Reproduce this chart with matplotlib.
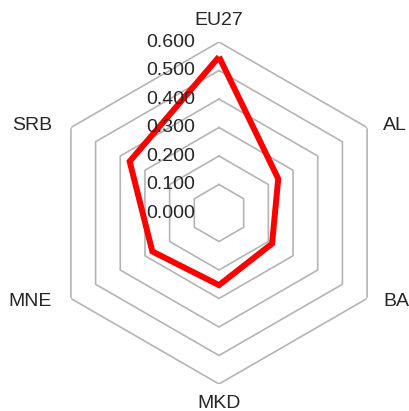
import numpy as np
import matplotlib
matplotlib.use("Agg")
import matplotlib.pyplot as plt
from matplotlib.transforms import offset_copy

# Radar data
categories = ["EU27", "AL", "BA", "MKD", "MNE", "SRB"]
values = [0.548, 0.240, 0.215, 0.253, 0.270, 0.362]
ring_levels = [0.1, 0.2, 0.3, 0.4, 0.5, 0.6]
tick_labels = ["0.000", "0.100", "0.200", "0.300", "0.400", "0.500", "0.600"]
tick_values = [0.0, 0.1, 0.2, 0.3, 0.4, 0.5, 0.6]

plt.rcParams["font.family"] = ["Liberation Sans", "DejaVu Sans"]

fig = plt.figure(figsize=(4.10, 4.11), dpi=100)
ax = fig.add_axes([48 / 410, 27 / 411, 342 / 410, 342 / 411], projection="polar")
ax.set_theta_zero_location("N")
ax.set_theta_direction(-1)
ax.set_ylim(0, 0.6)
ax.grid(False)
ax.set_xticks([])
ax.set_yticks([])
ax.spines["polar"].set_visible(False)
ax.patch.set_visible(False)

n = len(categories)
angles = np.linspace(0, 2 * np.pi, n, endpoint=False)
closed = np.concatenate([angles, angles[:1]])

# Hexagonal grid rings
grid_color = "#B4B4B4"
for lvl in ring_levels:
    ax.plot(closed, [lvl] * (n + 1), color=grid_color, lw=1.2, zorder=1,
            solid_joinstyle="miter")

# Data polygon
vals_closed = values + values[:1]
ax.plot(closed, vals_closed, color="#FF0000", lw=4.3, zorder=3,
        solid_joinstyle="miter", solid_capstyle="butt")

# Radial value labels along the top axis
tick_tr = offset_copy(ax.transData, fig=fig, x=-24, y=0, units="dots")
for v, lab in zip(tick_values, tick_labels):
    ax.text(0, v, lab, transform=tick_tr, ha="right", va="center",
            fontsize=14, color="#262626", zorder=4, clip_on=False)

# Category labels around the outside
label_offsets = {
    "EU27": (0, 22, "center", "center"),
    "AL": (16, 2, "left", "center"),
    "BA": (16, -3, "left", "center"),
    "MKD": (0, -20, "center", "center"),
    "MNE": (-19, -3, "right", "center"),
    "SRB": (-19, 2, "right", "center"),
}
for ang, cat in zip(angles, categories):
    dx, dy, ha, va = label_offsets[cat]
    tr = offset_copy(ax.transData, fig=fig, x=dx, y=dy, units="dots")
    ax.text(ang, 0.6, cat, transform=tr, ha=ha, va=va, fontsize=14,
            color="#262626", clip_on=False)

fig.savefig("out.png", dpi=100)
